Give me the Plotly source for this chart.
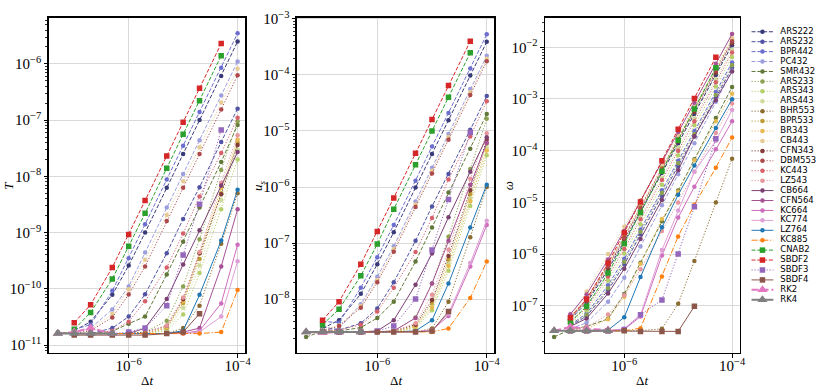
import plotly.graph_objects as go

# time step sizes (shared by all panels)
DT = [5e-8, 1e-7, 2e-7, 5e-7, 1e-6, 2e-6, 5e-6, 1e-5, 2e-5, 5e-5, 1e-4]

SCHEMES = ["ARS222", "ARS232", "BPR442", "PC432", "SMR432",
           "ARS233", "ARS343", "ARS443", "BHR553", "BPR533", "BR343", "CB443",
           "CFN343", "DBM553", "KC443", "LZ543",
           "CB664", "CFN564", "KC664", "KC774", "LZ764", "KC885",
           "CNAB2", "SBDF2", "SBDF3", "SBDF4", "RK2", "RK4"]

COLORS = ["#393b79", "#5254a3", "#6b6ecf", "#9c9ede", "#637939",
          "#8ca252", "#b5cf6b", "#cedb9c", "#8c6d31", "#bd9e39", "#e7ba52", "#e7cb94",
          "#843c39", "#ad494a", "#d6616b", "#e7969c",
          "#7b4173", "#a55194", "#ce6dbd", "#de9ed6", "#1f77b4", "#ff7f0e",
          "#2ca02c", "#d62728", "#9467bd", "#8c564b", "#e377c2", "#7f7f7f"]

LINESTYLES = ["dash"] * 5 + ["dot"] * 11 + ["solid"] * 5 + ["dashdot",
              "dash", "dash", "dot", "solid", "rkdash", "solid"]
MARKERS = ["circle"] * 22 + ["square"] * 4 + ["triangle-up"] * 2

# error in T
T_ARS222 = [None, 1.8e-11, 2.6e-11, 7.8e-11, 2.6e-10, 1.0e-9, 6.3e-9, 2.5e-8, 1.0e-7, 6.1e-7, 2.5e-6]
T_ARS232 = [None, 1.6e-11, 1.6e-11, 2.0e-11, 3.2e-11, 8.0e-11, 4.3e-10, 1.75e-9, 6.4e-9, 4.1e-8, 1.6e-7]
T_BPR442 = [None, 1.9e-11, 2.3e-11, 9.2e-11, 3.5e-10, 1.4e-9, 8.8e-9, 3.5e-8, 1.4e-7, 8.5e-7, 3.5e-6]
T_PC432 = [None, 1.7e-11, 2.0e-11, 4.3e-11, 1.1e-10, 4.4e-10, 2.8e-9, 1.1e-8, 4.4e-8, 2.75e-7, 1.1e-6]
T_SMR432 = [1.7e-11, 1.6e-11, 1.6e-11, 1.75e-11, 2.4e-11, 3.2e-11, 1.8e-10, 6.9e-10, 2.8e-9, 1.8e-8, 8.2e-8]
T_ARS233 = [None, 1.6e-11, 1.6e-11, 1.6e-11, 1.6e-11, 1.7e-11, 2.7e-11, 1.1e-10, 7.6e-10, 1.3e-8, 9.5e-8]
T_ARS343 = [None, 1.6e-11, 1.6e-11, 1.6e-11, 1.6e-11, 1.6e-11, 1.8e-11, 3.5e-11, 1.9e-10, 2.6e-9, 2.0e-8]
T_ARS443 = [None, 1.6e-11, 1.6e-11, 1.6e-11, 1.6e-11, 1.6e-11, 1.9e-11, 4.6e-11, 2.6e-10, 3.8e-9, 3.0e-8]
T_BHR553 = [None, 1.6e-11, 1.6e-11, 1.6e-11, 1.6e-11, 1.6e-11, 1.6e-11, 2.0e-11, 5.0e-11, 6.3e-10, 5.0e-9]
T_BPR533 = [None, 1.6e-11, 1.6e-11, 1.6e-11, 1.6e-11, 1.6e-11, 2.0e-11, 5.6e-11, 3.4e-10, 5.0e-9, 4.0e-8]
T_BR343 = [None, 1.6e-11, 1.6e-11, 1.6e-11, 1.6e-11, 1.6e-11, 2.1e-11, 6.0e-11, 4.3e-10, 6.3e-9, 4.5e-8]
T_CB443 = [None, 1.6e-11, 1.9e-11, 3.6e-11, 9.8e-11, 3.3e-10, 2.05e-9, 8.2e-9, 3.3e-8, 2.05e-7, 8.2e-7]
T_CFN343 = [None, 1.6e-11, 1.6e-11, 1.6e-11, 1.6e-11, 1.7e-11, 2.2e-11, 6.5e-11, 4.3e-10, 4.8e-9, 3.6e-8]
T_DBM553 = [None, 1.6e-11, 1.8e-11, 3.1e-11, 7.9e-11, 2.5e-10, 1.6e-9, 6.3e-9, 2.5e-8, 1.55e-7, 6.3e-7]
T_KC443 = [None, 1.6e-11, 1.6e-11, 1.8e-11, 2.6e-11, 6.0e-11, 2.4e-10, 9.6e-10, 4.4e-9, 2.6e-8, 1.1e-7]
T_LZ543 = [None, 1.6e-11, 1.6e-11, 1.6e-11, 1.6e-11, 1.6e-11, 2.2e-11, 7.0e-11, 4.5e-10, 7.7e-9, 5.4e-8]
T_CB664 = [None, 1.6e-11, 1.6e-11, 1.6e-11, 1.6e-11, 2.0e-11, 6.6e-11, 2.7e-10, 1.1e-9, 6.9e-9, 2.7e-8]
T_CFN564 = [None, 1.6e-11, 1.6e-11, 1.6e-11, 1.6e-11, 1.6e-11, 1.6e-11, 1.7e-11, 2.0e-11, 2.5e-10, 2.6e-9]
T_KC664 = [None, 1.6e-11, 1.6e-11, 1.6e-11, 1.6e-11, 1.6e-11, 1.6e-11, 1.6e-11, 1.8e-11, 5.5e-11, 6.1e-10]
T_KC774 = [None, 1.6e-11, 1.6e-11, 1.6e-11, 1.6e-11, 1.6e-11, 1.6e-11, 1.6e-11, 1.7e-11, 3.2e-11, 3.1e-10]
T_LZ764 = [None, 1.6e-11, 1.6e-11, 1.6e-11, 1.6e-11, 1.6e-11, 1.6e-11, 1.8e-11, 7.8e-11, 7.2e-10, 5.8e-9]
T_KC885 = [None, 1.6e-11, 1.6e-11, 1.6e-11, 1.6e-11, 1.6e-11, 1.6e-11, 1.6e-11, 1.6e-11, 1.7e-11, 9.5e-11]
T_CNAB2 = [None, 1.9e-11, 3.8e-11, 1.5e-10, 5.7e-10, 2.2e-9, 1.4e-8, 5.6e-8, 2.2e-7, 1.4e-6, None]
T_SBDF2 = [None, 2.5e-11, 5.2e-11, 2.4e-10, 9.2e-10, 3.7e-9, 2.3e-8, 9.2e-8, 3.7e-7, 2.3e-6, None]
T_SBDF3 = [None, 1.6e-11, 1.6e-11, 1.6e-11, 1.7e-11, 2.0e-11, 5.0e-11, 4.0e-10, 3.2e-9, 6.7e-8, None]
T_SBDF4 = [None, 1.5e-11, 1.5e-11, 1.5e-11, 1.5e-11, 1.5e-11, 1.6e-11, 1.7e-11, 3.6e-11, None, None]
T_RK2 = [1.6e-11, 1.7e-11, 2.0e-11, 1.6e-11, None, None, None, None, None, None, None]
T_RK4 = [1.6e-11, 1.6e-11, 1.6e-11, 1.6e-11, None, None, None, None, None, None, None]

# error in u_s
US_ARS222 = [None, 3.0e-9, 4.2e-9, 1.24e-8, 4.2e-8, 1.56e-7, 9.8e-7, 3.9e-6, 1.56e-5, 9.8e-5, 3.9e-4]
US_ARS232 = [None, 3.2e-9, 2.8e-9, 3.7e-9, 6.8e-9, 2.0e-8, 1.1e-7, 4.5e-7, 1.7e-6, 1.05e-5, 4.2e-5]
US_BPR442 = [None, 4.0e-9, 3.8e-9, 1.6e-8, 5.6e-8, 2.1e-7, 1.3e-6, 5.3e-6, 2.1e-5, 1.3e-4, 5.3e-4]
US_PC432 = [None, 2.8e-9, 3.0e-9, 8.1e-9, 2.5e-8, 8.8e-8, 5.5e-7, 2.2e-6, 8.8e-6, 5.6e-5, 2.2e-4]
US_SMR432 = [2.1e-9, 2.7e-9, 2.7e-9, 3.1e-9, 4.6e-9, 9.0e-9, 4.7e-8, 1.9e-7, 8.0e-7, 4.8e-6, 2.0e-5]
US_ARS233 = [None, 2.6e-9, 2.6e-9, 2.6e-9, 2.6e-9, 2.7e-9, 4.7e-9, 1.9e-8, 1.3e-7, 2.1e-6, 1.65e-5]
US_ARS343 = [None, 2.6e-9, 2.6e-9, 2.6e-9, 2.6e-9, 2.6e-9, 3.0e-9, 6.3e-9, 3.2e-8, 4.6e-7, 3.7e-6]
US_ARS443 = [None, 2.6e-9, 2.6e-9, 2.6e-9, 2.6e-9, 2.6e-9, 3.2e-9, 7.6e-9, 4.3e-8, 6.3e-7, 5.0e-6]
US_BHR553 = [None, 2.6e-9, 2.6e-9, 2.6e-9, 2.6e-9, 2.6e-9, 2.6e-9, 3.0e-9, 9.0e-9, 1.27e-7, 1.0e-6]
US_BPR533 = [None, 2.6e-9, 2.6e-9, 2.6e-9, 2.6e-9, 2.6e-9, 3.3e-9, 8.6e-9, 5.1e-8, 7.5e-7, 6.0e-6]
US_BR343 = [None, 2.6e-9, 2.6e-9, 2.6e-9, 2.6e-9, 2.6e-9, 3.2e-9, 7.1e-9, 3.9e-8, 5.6e-7, 4.5e-6]
US_CB443 = [None, 2.8e-9, 3.4e-9, 7.5e-9, 2.2e-8, 7.8e-8, 4.9e-7, 1.95e-6, 7.8e-6, 4.9e-5, 1.95e-4]
US_CFN343 = [None, 2.6e-9, 2.6e-9, 2.6e-9, 2.6e-9, 2.7e-9, 3.5e-9, 9.6e-9, 5.9e-8, 8.8e-7, 7.0e-6]
US_DBM553 = [None, 2.7e-9, 3.3e-9, 7.0e-9, 2.0e-8, 7.0e-8, 4.4e-7, 1.75e-6, 7.0e-6, 4.4e-5, 1.75e-4]
US_KC443 = [None, 2.7e-9, 2.8e-9, 3.5e-9, 6.0e-9, 1.6e-8, 6.9e-8, 2.8e-7, 1.36e-6, 8.0e-6, 3.4e-5]
US_LZ543 = [None, 2.6e-9, 2.6e-9, 2.6e-9, 2.6e-9, 2.7e-9, 3.7e-9, 1.2e-8, 7.6e-8, 1.4e-6, 9.1e-6]
US_CB664 = [None, 2.6e-9, 2.6e-9, 2.6e-9, 2.7e-9, 4.2e-9, 1.8e-8, 6.5e-8, 2.9e-7, 1.87e-6, 7.7e-6]
US_CFN564 = [None, 2.6e-9, 2.6e-9, 2.6e-9, 2.6e-9, 2.7e-9, 4.6e-9, 1.9e-8, 1.1e-7, 1.1e-6, 6.1e-6]
US_KC664 = [None, 2.6e-9, 2.6e-9, 2.6e-9, 2.6e-9, 2.6e-9, 2.6e-9, 2.8e-9, 5.0e-9, 3.8e-8, 2.1e-7]
US_KC774 = [None, 2.6e-9, 2.6e-9, 2.6e-9, 2.6e-9, 2.6e-9, 2.6e-9, 2.8e-9, 5.5e-9, 4.4e-8, 2.5e-7]
US_LZ764 = [None, 2.6e-9, 2.6e-9, 2.6e-9, 2.6e-9, 2.6e-9, 2.7e-9, 4.2e-9, 1.9e-8, 1.9e-7, 1.1e-6]
US_KC885 = [None, 2.6e-9, 2.6e-9, 2.6e-9, 2.6e-9, 2.6e-9, 2.6e-9, 2.6e-9, 3.0e-9, 1.05e-8, 4.7e-8]
US_CNAB2 = [None, 3.5e-9, 6.6e-9, 2.6e-8, 9.6e-8, 4.0e-7, 2.5e-6, 1.0e-5, 4.0e-5, 2.5e-4, None]
US_SBDF2 = [None, 4.2e-9, 9.0e-9, 4.2e-8, 1.6e-7, 6.4e-7, 4.0e-6, 1.6e-5, 6.5e-5, 4.0e-4, None]
US_SBDF3 = [None, 2.6e-9, 2.6e-9, 2.6e-9, 2.7e-9, 3.3e-9, 1.0e-8, 7.5e-8, 6.0e-7, 9.4e-6, None]
US_SBDF4 = [None, 2.6e-9, 2.6e-9, 2.6e-9, 2.6e-9, 2.6e-9, 2.6e-9, 2.7e-9, 6.0e-9, None, None]
US_RK2 = [2.6e-9, 2.5e-9, 2.6e-9, 2.6e-9, None, None, None, None, None, None, None]
US_RK4 = [2.6e-9, 2.6e-9, 2.6e-9, 2.6e-9, None, None, None, None, None, None, None]

# error in omega
W_ARS222 = [None, 5.5e-8, 1.14e-7, 5.0e-7, 1.74e-6, 6.5e-6, 3.7e-5, 1.39e-4, 5.2e-4, 2.9e-3, 1.1e-2]
W_ARS232 = [None, 4.1e-8, 6.3e-8, 2.0e-7, 6.3e-7, 2.4e-6, 1.35e-5, 5.0e-5, 1.88e-4, 1.07e-3, 4.0e-3]
W_BPR442 = [None, 4.3e-8, 7.1e-8, 2.5e-7, 8.1e-7, 3.0e-6, 1.72e-5, 6.4e-5, 2.4e-4, 1.37e-3, 5.1e-3]
W_PC432 = [None, 3.6e-8, 4.7e-8, 1.2e-7, 3.5e-7, 1.4e-6, 8.8e-6, 3.5e-5, 1.4e-4, 8.8e-4, 3.5e-3]
W_SMR432 = [2.5e-8, 3.5e-8, 4.0e-8, 5.6e-8, 1.7e-7, 6.8e-7, 4.3e-6, 1.7e-5, 6.8e-5, 4.3e-4, 1.7e-3]
W_ARS233 = [None, 4.2e-8, 6.6e-8, 2.2e-7, 7.1e-7, 2.7e-6, 1.52e-5, 5.7e-5, 2.1e-4, 1.2e-3, 4.5e-3]
W_ARS343 = [None, 4.6e-8, 8.1e-8, 3.1e-7, 1.03e-6, 3.8e-6, 2.2e-5, 8.2e-5, 3.1e-4, 1.74e-3, 6.5e-3]
W_ARS443 = [None, 5.1e-8, 1.0e-7, 4.1e-7, 1.42e-6, 5.3e-6, 3.0e-5, 1.13e-4, 4.2e-4, 2.4e-3, 9.0e-3]
W_BHR553 = [None, 3.3e-8, 3.3e-8, 3.3e-8, 3.3e-8, 3.3e-8, 3.6e-8, 1.1e-7, 7.4e-7, 1.0e-5, 7.0e-5]
W_BPR533 = [None, 6.1e-8, 1.37e-7, 6.2e-7, 2.2e-6, 8.3e-6, 4.7e-5, 1.76e-4, 6.6e-4, 3.75e-3, 1.4e-2]
W_BR343 = [None, 3.4e-8, 3.6e-8, 5.5e-8, 1.5e-7, 6.5e-7, 4.8e-6, 1.6e-5, 6.5e-5, 3.7e-4, 1.26e-3]
W_CB443 = [None, 5.8e-8, 1.9e-7, 1.0e-6, 3.4e-6, 1.1e-5, 5.6e-5, 2.0e-4, 7.1e-4, 4.0e-3, 1.5e-2]
W_CFN343 = [None, 5.7e-8, 1.22e-7, 5.4e-7, 1.9e-6, 7.1e-6, 4.0e-5, 1.51e-4, 5.6e-4, 3.2e-3, 1.2e-2]
W_DBM553 = [None, 5.9e-8, 1.29e-7, 5.8e-7, 2.05e-6, 7.7e-6, 4.4e-5, 1.64e-4, 6.1e-4, 3.5e-3, 1.3e-2]
W_KC443 = [None, 4.9e-8, 9.1e-8, 3.7e-7, 1.25e-6, 4.7e-6, 2.7e-5, 1.0e-4, 3.7e-4, 2.1e-3, 7.9e-3]
W_LZ543 = [None, 3.4e-8, 3.9e-8, 6.8e-8, 1.6e-7, 5.1e-7, 2.8e-6, 1.0e-5, 3.9e-5, 2.2e-4, 8.2e-4]
W_CB664 = [None, 4.0e-8, 5.7e-8, 1.73e-7, 5.2e-7, 1.95e-6, 1.11e-5, 4.2e-5, 1.9e-4, 9.5e-4, 3.4e-3]
W_CFN564 = [None, 6.9e-8, 1.66e-7, 7.9e-7, 2.8e-6, 1.06e-5, 6.1e-5, 2.3e-4, 8.5e-4, 4.8e-3, 1.8e-2]
W_KC664 = [None, 3.3e-8, 3.3e-8, 3.3e-8, 3.5e-8, 6.2e-8, 9.4e-7, 5.1e-6, 2.0e-5, 1.07e-4, 3.7e-4]
W_KC774 = [None, 3.3e-8, 3.3e-8, 3.3e-8, 3.6e-8, 6.7e-8, 1.2e-6, 7.0e-6, 3.9e-5, 1.55e-4, 6.1e-4]
W_LZ764 = [None, 3.3e-8, 3.3e-8, 3.4e-8, 6.0e-8, 3.6e-7, 3.3e-6, 1.4e-5, 5.2e-5, 2.75e-4, 9.9e-4]
W_KC885 = [None, 3.3e-8, 3.3e-8, 3.3e-8, 3.3e-8, 3.7e-8, 3.7e-7, 2.2e-6, 9.0e-6, 4.7e-5, 1.8e-4]
W_CNAB2 = [None, 4.9e-8, 9.7e-8, 4.3e-7, 1.6e-6, 6.4e-6, 4.0e-5, 1.6e-4, 6.4e-4, 4.0e-3, None]
W_SBDF2 = [None, 5.9e-8, 1.35e-7, 6.7e-7, 2.6e-6, 1.02e-5, 6.4e-5, 2.6e-4, 1.02e-3, 6.4e-3, None]
W_SBDF3 = [None, 3.3e-8, 3.3e-8, 3.3e-8, 3.5e-8, 6.7e-8, 1.3e-7, 1.0e-6, 8.2e-6, 1.7e-4, None]
W_SBDF4 = [None, 3.3e-8, 3.3e-8, 3.3e-8, 3.3e-8, 3.2e-8, 3.2e-8, 3.2e-8, 9.8e-8, None, None]
W_RK2 = [3.3e-8, 3.9e-8, 3.6e-8, 3.4e-8, None, None, None, None, None, None, None]
W_RK4 = [3.3e-8, 3.3e-8, 3.3e-8, 3.3e-8, None, None, None, None, None, None, None]

DASH_PATTERNS = {
    "solid": "solid",
    "dash": "4px,1.8px",
    "dot": "1.2px,1.8px",
    "dashdot": "6px,1.8px,1.2px,1.8px",
    "rkdash": "7px,3px",
}

# page body margin is reset to 0 by the post script below, so figure px == window px
FW, FH = 830, 391


def px(x):
    return x / FW


def py(y):
    return 1 - y / FH


PANELS = [
    ("T", "x", "y", (49, 247), (-11.14, -5.18), "<i>T</i>", 9),
    ("US", "x2", "y2", (299, 498), (-8.96, -2.98), "<i>u</i><sub><i>s</i></sub>", 261),
    ("W", "x3", "y3", (549, 745), (-7.91, -1.43), "<i>ω</i>", 513),
]
PLOT_TOP, PLOT_BOTTOM = 9, 352
SERIF = "Liberation Serif"


def marker_size(name, symbol):
    if name.startswith("RK"):
        return 9
    return 5.5 if symbol == "square" else 4.5


fig = go.Figure()

for prefix, xa, ya, _, _, _, _ in PANELS:
    for name, color, style, symbol in zip(SCHEMES, COLORS, LINESTYLES, MARKERS):
        values = globals()[f"{prefix}_{name}"]
        fig.add_trace(go.Scatter(
            x=DT, y=values, xaxis=xa, yaxis=ya,
            mode="lines+markers", showlegend=False, hoverinfo="skip",
            line=dict(color=color, width=2 if name.startswith("RK") else 1,
                      dash=DASH_PATTERNS[style]),
            marker=dict(symbol=symbol, color=color, size=marker_size(name, symbol),
                        line=dict(width=0)),
        ))

# hand-made legend in pixel coordinates (plotly legend rows are too tall for 28 entries)
LEG_Y0, LEG_STEP = 23.3, 10.16
for i, (name, color, style, symbol) in enumerate(zip(SCHEMES, COLORS, LINESTYLES, MARKERS)):
    yy = LEG_Y0 + i * LEG_STEP
    fig.add_trace(go.Scatter(
        x=[757, 768, 779], y=[yy, yy, yy], xaxis="x4", yaxis="y4",
        mode="lines+markers", showlegend=False, hoverinfo="skip", cliponaxis=False,
        line=dict(color=color, width=2 if name.startswith("RK") else 1,
                  dash=DASH_PATTERNS[style]),
        marker=dict(symbol=symbol, color=color, opacity=[0, 1, 0],
                    size=marker_size(name, symbol), line=dict(width=0)),
    ))
    fig.add_trace(go.Scatter(
        x=[786], y=[yy], xaxis="x4", yaxis="y4", mode="text", text=[name],
        textposition="middle right", showlegend=False, hoverinfo="skip", cliponaxis=False,
        textfont=dict(family="DejaVu Sans", size=8.5, color="black"),
    ))

axis_common = dict(
    type="log", showline=True, linecolor="black", linewidth=1.5, mirror=True,
    ticks="outside", ticklen=3.5, tickwidth=1, tickcolor="black",
    showgrid=True, gridcolor="#d9d9d9", gridwidth=1, zeroline=False,
    exponentformat="power", ticklabeloverflow="allow",
    tickfont=dict(family=SERIF, size=12, color="black"),
)

layout = dict(
    width=FW, height=FH, autosize=False,
    margin=dict(l=0, r=0, t=0, b=0),
    paper_bgcolor="white", plot_bgcolor="rgba(0,0,0,0)",
    showlegend=False,
)

annotations = []
for k, (prefix, xa, ya, (x0, x1), yrange, ytitle, ytx) in enumerate(PANELS):
    xkey = "xaxis" if k == 0 else f"xaxis{k + 1}"
    ykey = "yaxis" if k == 0 else f"yaxis{k + 1}"
    layout[xkey] = dict(axis_common, domain=[px(x0), px(x1)], range=[-7.47, -3.86],
                        dtick=2, anchor=ya, ticklabelstandoff=-4)
    layout[ykey] = dict(axis_common, domain=[py(PLOT_BOTTOM), py(PLOT_TOP)],
                        range=list(yrange), dtick=1, anchor=xa,
                        minor=dict(ticks="outside", ticklen=2, tickwidth=0.8,
                                   tickcolor="black", showgrid=False))
    annotations.append(dict(
        text=ytitle, x=px(ytx), y=py(181), xref="paper", yref="paper",
        xanchor="center", yanchor="middle",
        showarrow=False, textangle=-90, font=dict(family=SERIF, size=13, color="black"),
    ))
    annotations.append(dict(
        text="Δ<i>t</i>", x=px((x0 + x1) / 2), y=py(380), xref="paper", yref="paper",
        xanchor="center", yanchor="middle",
        showarrow=False, font=dict(family=SERIF, size=13, color="black"),
    ))

layout["xaxis4"] = dict(domain=[0, 1], range=[0, FW], visible=False, anchor="y4")
layout["yaxis4"] = dict(domain=[0, 1], range=[FH, 0], visible=False, anchor="x4")
layout["annotations"] = annotations

fig.update_layout(**layout)
fig.write_html("out.html", config={"displayModeBar": False, "staticPlot": True},
               post_script="document.body.style.margin = '0';")
